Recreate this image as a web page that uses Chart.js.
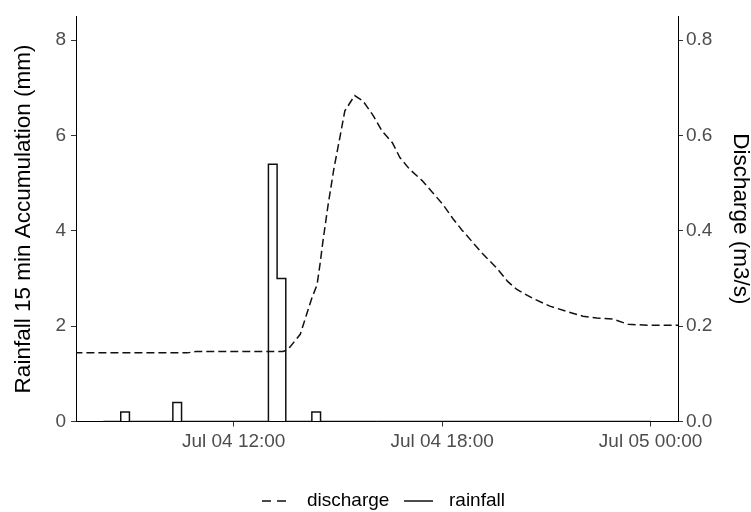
<!DOCTYPE html>
<html>
<head>
<meta charset="utf-8">
<script src="https://cdn.jsdelivr.net/npm/chart.js@4.4.0/dist/chart.umd.min.js"></script>
<style>
  html, body { margin: 0; padding: 0; background: #fff; }
</style>
</head>
<body>
<canvas id="chart" width="751" height="512"></canvas>
<script>
// discharge (m3/s)
const dischargeTime = [
  "Jul 04 07:25", "Jul 04 10:40", "Jul 04 10:55", "Jul 04 13:25", "Jul 04 13:30",
  "Jul 04 13:37", "Jul 04 13:55", "Jul 04 14:06", "Jul 04 14:15", "Jul 04 14:24",
  "Jul 04 14:29", "Jul 04 14:34", "Jul 04 14:43", "Jul 04 14:53", "Jul 04 15:04",
  "Jul 04 15:12", "Jul 04 15:29", "Jul 04 15:43", "Jul 04 16:01", "Jul 04 16:16",
  "Jul 04 16:34", "Jul 04 16:47", "Jul 04 17:04", "Jul 04 17:25", "Jul 04 17:43",
  "Jul 04 18:01", "Jul 04 18:19", "Jul 04 18:34", "Jul 04 18:52", "Jul 04 19:10",
  "Jul 04 19:35", "Jul 04 19:53", "Jul 04 20:09", "Jul 04 20:37", "Jul 04 21:06",
  "Jul 04 21:35", "Jul 04 22:03", "Jul 04 22:27", "Jul 04 22:55", "Jul 04 23:21",
  "Jul 04 23:54", "Jul 05 00:50"
];
const discharge = [
  0.144, 0.144, 0.147, 0.147, 0.149,
  0.156, 0.183, 0.225, 0.259, 0.287,
  0.329, 0.377, 0.454, 0.530, 0.600,
  0.652, 0.684, 0.673, 0.642, 0.610,
  0.585, 0.554, 0.529, 0.506, 0.481,
  0.456, 0.425, 0.402, 0.377, 0.352,
  0.321, 0.294, 0.277, 0.258, 0.242,
  0.231, 0.221, 0.217, 0.215, 0.204,
  0.202, 0.202
];

// rainfall 15 min accumulation (mm), value holds until the next time
const rainTime = [
  "Jul 04 08:15", "Jul 04 08:45", "Jul 04 09:00", "Jul 04 10:15", "Jul 04 10:30",
  "Jul 04 13:00", "Jul 04 13:15", "Jul 04 13:30", "Jul 04 14:15", "Jul 04 14:30",
  "Jul 05 00:00"
];
const rainfall = [0, 0.2, 0, 0.4, 0, 5.4, 3.0, 0, 0.2, 0, 0];

const xTickLabels = ["Jul 04 12:00", "Jul 04 18:00", "Jul 05 00:00"];
const rainTicks = [0, 2, 4, 6, 8];
const dischargeTicks = [0, 0.2, 0.4, 0.6, 0.8];

const FONT = "'Liberation Sans', Arial, sans-serif";

// "Jul 04 13:15" -> hours after Jul 04 00:00
function toHours(s) {
  var day = parseInt(s.slice(4, 6), 10);
  var hh = parseInt(s.slice(7, 9), 10);
  var mm = parseInt(s.slice(10, 12), 10);
  return (day - 4) * 24 + hh + mm / 60;
}

function toPoints(times, values) {
  return times.map(function (t, i) {
    return { x: toHours(t), y: values[i] };
  });
}

// legend under the plot: dashed = discharge, solid = rainfall
const bottomLegend = {
  id: "bottomLegend",
  afterDraw: function (chart) {
    var ctx = chart.ctx;
    var y = 501;
    ctx.save();
    ctx.strokeStyle = "#111";
    ctx.lineWidth = 1.5;
    ctx.setLineDash([9, 6]);
    ctx.beginPath();
    ctx.moveTo(262, y);
    ctx.lineTo(292, y);
    ctx.stroke();
    ctx.setLineDash([]);
    ctx.beginPath();
    ctx.moveTo(404, y);
    ctx.lineTo(433, y);
    ctx.stroke();
    ctx.fillStyle = "#000";
    ctx.font = "19px " + FONT;
    ctx.textBaseline = "middle";
    ctx.fillText("discharge", 307, y);
    ctx.fillText("rainfall", 449, y);
    ctx.restore();
  }
};

var ctx = document.getElementById("chart").getContext("2d");
var myChart = new Chart(ctx, {
  type: "line",
  data: {
    datasets: [
      {
        label: "discharge",
        data: toPoints(dischargeTime, discharge),
        yAxisID: "y1",
        borderColor: "#111",
        borderWidth: 1.5,
        borderDash: [8, 4],
        pointRadius: 0,
        tension: 0,
        fill: false,
      },
      {
        label: "rainfall",
        data: toPoints(rainTime, rainfall),
        yAxisID: "y",
        borderColor: "#111",
        borderWidth: 1.5,
        stepped: "before",
        pointRadius: 0,
        fill: false,
      },
    ],
  },
  options: {
    responsive: false,
    animation: false,
    devicePixelRatio: 1,
    layout: { padding: { top: 14, left: 0, right: 0, bottom: 0 } },
    plugins: {
      legend: { display: false },
      tooltip: { enabled: false },
    },
    scales: {
      x: {
        type: "linear",
        min: 7.4625,
        max: 24.7875,
        afterBuildTicks: function (scale) {
          scale.ticks = xTickLabels.map(function (l) {
            return { value: toHours(l) };
          });
        },
        afterFit: function (scale) {
          // half pixel so the rain baseline sits on the axis line
          scale.height = 90.5;
        },
        grid: { drawOnChartArea: false, tickLength: 5, tickColor: "#333" },
        border: { color: "#000", width: 1 },
        ticks: {
          color: "#4d4d4d",
          font: { size: 19, family: FONT },
          padding: 4,
          maxRotation: 0,
          autoSkip: false,
          callback: function (v, i) {
            return xTickLabels[i];
          },
        },
      },
      y: {
        position: "left",
        min: 0,
        max: 8.5,
        afterBuildTicks: function (scale) {
          scale.ticks = rainTicks.map(function (v) {
            return { value: v };
          });
        },
        afterFit: function (scale) {
          scale.width = 76;
        },
        grid: { drawOnChartArea: false, tickLength: 5, tickColor: "#333" },
        border: { color: "#000", width: 1 },
        ticks: {
          color: "#4d4d4d",
          font: { size: 19, family: FONT },
          padding: 5,
          callback: function (v) {
            return String(v);
          },
        },
        title: {
          display: true,
          text: "Rainfall 15 min Accumulation (mm)",
          color: "#000",
          font: { size: 22.5, family: FONT, lineHeight: 1 },
          padding: { top: 13, bottom: 0 },
        },
      },
      y1: {
        position: "right",
        min: 0,
        max: 0.85,
        afterBuildTicks: function (scale) {
          scale.ticks = dischargeTicks.map(function (v) {
            return { value: v };
          });
        },
        afterFit: function (scale) {
          scale.width = 73;
        },
        grid: { drawOnChartArea: false, tickLength: 5, tickColor: "#333" },
        border: { color: "#000", width: 1 },
        ticks: {
          color: "#4d4d4d",
          font: { size: 19, family: FONT },
          padding: 3,
          callback: function (v) {
            return v.toFixed(1);
          },
        },
        title: {
          display: true,
          text: "Discharge (m3/s)",
          color: "#000",
          font: { size: 22.5, family: FONT, lineHeight: 1 },
          padding: { top: 0, bottom: 0 },
        },
      },
    },
  },
  plugins: [bottomLegend],
});
</script>
</body>
</html>
